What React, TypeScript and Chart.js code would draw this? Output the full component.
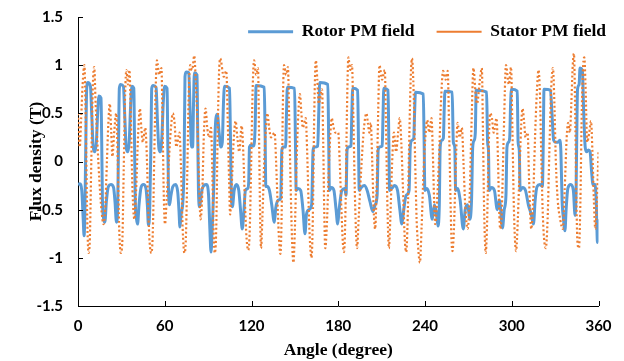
import React, { useEffect, useRef } from 'react';
import { Chart, registerables } from 'chart.js';

Chart.register(...registerables);

const seriesNames = ['Rotor PM field', 'Stator PM field'];
const xTicks = [0, 60, 120, 180, 240, 300, 360];
const yTicks = [-1.5, -1, -0.5, 0, 0.5, 1, 1.5];
const xTitle = 'Angle (degree)';
const yTitle = 'Flux density (T)';

// [angle (degree), flux density (T)]
const rotorPoints: [number, number][] = [
  [0,-0.24],[1.2,-0.23],[2.6,-0.3],[3.6,-0.6],[4.2,-0.77],[4.8,-0.5],[5.4,0.2],[6.0,0.75],[6.8,0.82],[8.6,0.78],[9.6,0.45],[10.5,0.15],[11.6,0.1],[12.7,0.2],[13.6,0.5],[14.5,0.68],[15.9,0.66],[16.4,0.2],[16.9,-0.4],[17.8,-0.6],[18.6,-0.63],[19.6,-0.42],[21,-0.26],[22.8,-0.24],[24.6,-0.27],[25.6,-0.42],[26.6,-0.63],[27.4,-0.5],
  [28,0.15],[28.6,0.76],[29.5,0.8],[31.4,0.78],[32.4,0.45],[33.3,0.15],[34.4,0.1],[35.4,0.2],[36.4,0.58],[37.3,0.78],[38.6,0.76],[39.1,0.2],[39.6,-0.4],[40.5,-0.6],[41.2,-0.65],[42.2,-0.45],[43.6,-0.27],[45.3,-0.24],[47,-0.28],[48,-0.46],[48.7,-0.66],[49.6,-0.5],
  [50.4,0.15],[51,0.76],[52,0.79],[54,0.77],[55,0.4],[56,0.13],[57,0.1],[58,0.25],[59,0.62],[59.9,0.78],[61.6,0.76],[62.1,0.2],[62.6,-0.3],[63.3,-0.45],[64.3,-0.35],[65.6,-0.26],[67.5,-0.24],[69,-0.32],[69.8,-0.5],[70.5,-0.68],[71.3,-0.55],[72.6,-0.4],
  [73.4,0.0],[74,0.88],[74.8,0.93],[76.6,0.92],[77.6,0.5],[78.5,0.15],[79.3,0.15],[79.9,0.6],[80.5,0.92],[82.3,0.9],[82.8,0.3],[83.3,-0.3],[84.2,-0.47],[85.4,-0.32],[87,-0.25],[89,-0.24],[90.3,-0.35],[91.2,-0.7],[92,-0.94],[92.8,-0.7],[93.8,-0.3],
  [94.6,0.2],[95.4,0.45],[96.4,0.49],[97.6,0.3],[98.8,0.15],[99.8,0.2],[100.6,0.6],[101.3,0.78],[104.8,0.76],[105.4,0.3],[106,-0.3],[106.8,-0.47],[108,-0.3],[109.6,-0.24],[111.2,-0.3],[112.4,-0.5],[113.6,-0.7],[114.6,-0.55],[115.8,-0.3],[117.4,-0.28],[118.1,-0.2],
  [118.6,0.15],[119.8,0.17],[121.6,0.16],[122.5,0.35],[123.2,0.79],[128.8,0.77],[129.4,0.3],[129.9,-0.26],[131,-0.26],[132.4,-0.3],[134,-0.45],[135.8,-0.63],[136.8,-0.48],[138.6,-0.4],[140.2,-0.38],
  [141,0.12],[142,0.15],[143.6,0.15],[144.2,0.5],[144.8,0.77],[149.8,0.76],[150.4,0.2],[150.9,-0.3],[152.2,-0.28],[154,-0.3],[155.6,-0.5],[157,-0.75],[158,-0.55],[159.8,-0.5],[161.6,-0.45],
  [162.6,0.12],[163.6,0.15],[165.8,0.16],[166.5,0.5],[167.2,0.82],[172.8,0.8],[173.4,0.2],[173.9,-0.3],[175.3,-0.27],[177,-0.3],[178.5,-0.5],[179.6,-0.65],[180.6,-0.5],[182.5,-0.3],[184.5,-0.28],[185.4,-0.35],
  [186.1,0.12],[187,0.15],[188.8,0.16],[189.4,0.5],[190,0.76],[193.4,0.74],[194,0.2],[194.5,-0.3],[196,-0.27],[198,-0.25],[200,-0.3],[202,-0.42],[204,-0.52],[205.5,-0.45],[206.9,-0.35],
  [207.6,0.12],[208.6,0.15],[210.4,0.16],[211,0.5],[211.5,0.76],[214.4,0.74],[215,0.2],[215.5,-0.3],[217,-0.28],[219,-0.25],[221,-0.3],[222.6,-0.5],[224,-0.65],[225.3,-0.5],[227,-0.35],[229,-0.3],
  [229.8,0.15],[230.8,0.22],[232.2,0.24],[232.8,0.5],[233.4,0.72],[238.8,0.7],[239.4,0.2],[239.9,-0.3],[241.3,-0.28],[243,-0.35],[245,-0.6],[246.5,-0.45],[248,-0.55],[249,-0.67],[249.9,-0.45],
  [250.5,0.15],[251.5,0.22],[252.7,0.24],[253.3,0.55],[253.8,0.73],[258.8,0.72],[259.6,0.2],[260.6,0.15],[261.2,-0.3],[262.5,-0.28],[264.3,-0.4],[266.5,-0.7],[267.8,-0.5],[269.5,-0.45],[271,-0.6],[272.2,-0.4],
  [273,0.15],[274,0.22],[274.8,0.3],[275.4,0.74],[282.6,0.72],[283.3,0.2],[283.9,0.12],[284.4,-0.3],[286,-0.27],[288,-0.3],[290,-0.5],[291.5,-0.4],[293.6,-0.69],[294.8,-0.5],[296,-0.35],
  [296.7,0.15],[297.8,0.2],[298.6,0.25],[299.2,0.6],[299.8,0.75],[303.8,0.73],[304.4,0.2],[305.2,0.12],[305.8,-0.3],[307.5,-0.27],[309.5,-0.3],[311.5,-0.45],[313.5,-0.55],[315,-0.65],[316.2,-0.4],[317.5,-0.26],[319.5,-0.24],[321.2,-0.26],
  [321.8,0.2],[322.3,0.75],[326.8,0.74],[327.8,0.5],[329,0.22],[330.4,0.2],[332,0.2],[333.2,0.22],[334,0.1],[334.8,-0.4],[335.8,-0.6],[336.8,-0.72],[337.6,-0.5],[338.8,-0.28],[340.8,-0.24],[342.6,-0.3],[343.8,-0.56],[344.5,-0.3],
  [345,0.3],[345.5,0.75],[346.6,0.8],[347.2,0.97],[348.8,0.95],[349.8,0.5],[350.8,0.15],[351.8,0.1],[353,0.12],[354.2,0.1],[355.2,-0.1],[356.2,-0.24],[357.6,-0.24],[358.4,-0.4],[359.3,-0.84],[360,-0.6],
];

const statorPoints: [number, number][] = [
  [0,0.5],[1.2,0.15],[2.2,0.45],[3.2,0.8],[4.4,1.0],[5.4,0.4],[6.4,-0.6],[7.3,-0.95],[8.2,-0.8],[9.2,0.0],[10.3,0.8],[11.2,0.98],[12.2,0.6],[13.4,0.2],[14.8,-0.2],[16.2,-0.5],[17.6,-0.65],[18.8,-0.5],[20,0.0],[21,0.4],[22,0.6],[23,0.3],[23.8,0.05],[25,0.3],[26.5,0.5],[27.5,0.0],[28.5,-0.7],[29.6,-0.95],[30.6,-0.85],[31.6,-0.1],[32.6,0.7],[33.5,0.95],[34.6,0.8],[35.6,0.95],[36.6,0.4],[37.7,-0.3],[39,-0.6],[40.2,-0.3],[41.5,0.25],[42.8,0.55],[43.8,0.35],[44.8,0.2],[46.5,0.35],[47.5,0.1],[48.6,-0.5],[49.6,-0.85],[50.8,-0.95],[51.8,-0.7],[52.8,0.1],[53.8,0.8],[54.6,1.05],[56.2,0.9],[57.7,0.97],[58.6,0.3],[59.4,-0.4],[60.2,-0.65],[61.3,-0.4],[62.8,0.0],[64.3,0.35],[65.6,0.5],[66.8,0.4],[68,0.15],[70.2,0.3],[71.3,-0.1],[72.4,-0.7],[73.6,-0.95],[74.6,-0.8],[75.6,-0.1],[76.6,0.7],[77.6,1.0],[79,0.95],[80.4,1.1],[81.4,0.85],[82.6,0.4],[83.7,-0.2],[84.8,-0.6],[85.9,-0.35],[87.1,0.3],[88.2,0.55],[89.4,0.35],[90.6,0.25],[92,0.35],[92.9,-0.1],[93.8,-0.75],[94.6,-0.95],[95.6,-0.7],[96.5,0.2],[97.5,0.9],[98.4,1.07],[100.8,0.88],[102.6,0.94],[103.6,0.4],[104.5,-0.2],[105.2,-0.55],[106.2,-0.3],[107.6,0.2],[109,0.42],[110.2,0.25],[111.5,0.1],[113.2,0.37],[114.3,0.1],[115.4,-0.4],[116.6,-0.8],[117.8,-0.92],[118.8,-0.7],[119.8,0.0],[120.8,0.75],[121.8,1.05],[123.2,0.9],[124.5,0.97],[125.2,0.3],[125.9,-0.5],[126.6,-0.9],[127.5,-0.6],[128.8,0.0],[130,0.35],[131,0.5],[132.2,0.35],[133.5,0.25],[136,0.3],[137,0.0],[138.2,-0.5],[139,-0.8],[140,-0.96],[140.9,-0.5],[141.6,0.5],[142.5,1.0],[144,0.9],[145.2,0.98],[146,0.5],[147,-0.2],[148,-0.8],[149,-1.05],[150,-0.7],[151.2,0.0],[152.4,0.5],[153.5,0.7],[154.5,0.5],[155.5,0.35],[157.5,0.45],[158.5,0.1],[159.6,-0.5],[160.5,-0.85],[161.5,-1.0],[162.4,-0.6],[163.4,0.5],[164.5,1.05],[165.5,0.85],[166.5,0.6],[168.8,0.75],[169.6,0.2],[170.3,-0.5],[171,-0.9],[172,-0.7],[173.4,-0.1],[174.6,0.3],[175.5,0.45],[176.8,0.35],[178,0.3],[180,0.3],[181,0.0],[182.2,-0.5],[183.2,-0.85],[184,-0.94],[185,-0.5],[186,0.5],[187,1.08],[188.3,0.95],[189.5,1.0],[190.4,0.5],[191.3,-0.2],[192.2,-0.7],[193,-0.9],[194.1,-0.6],[195.8,-0.1],[197.8,0.35],[199.5,0.5],[200.5,0.4],[201.5,0.3],[202.5,0.4],[203.5,0.0],[204.5,-0.5],[205.5,-0.7],[206.5,-0.3],[207.6,0.5],[208.5,1.0],[210.3,0.85],[212.2,0.95],[213,0.4],[213.8,-0.3],[214.4,-0.7],[215,-0.9],[216,-0.6],[217.3,0.0],[218.5,0.3],[220,0.1],[221.4,0.3],[222.5,0.45],[223.6,0.2],[224.8,-0.3],[226,-0.8],[227,-0.94],[228,-0.6],[229.2,0.3],[230.2,0.9],[231,1.07],[232.2,0.7],[233.2,0.0],[234.2,-0.6],[235.3,-0.9],[236.5,-1.05],[237.6,-0.7],[239,-0.1],[240.5,0.3],[241.5,0.43],[243,0.3],[244.5,0.45],[245.4,0.1],[246.3,-0.4],[247,-0.65],[248,-0.5],[249.6,0.0],[251,0.6],[252.5,0.94],[254.3,0.85],[255.7,0.94],[256.6,0.4],[257.5,-0.3],[258.3,-0.8],[259,-0.93],[260,-0.7],[261.2,-0.1],[262.5,0.4],[264,0.25],[265.5,0.35],[266.6,0.0],[267.8,-0.45],[269.5,-0.7],[270.8,-0.4],[272.2,0.4],[273.5,0.97],[275,0.7],[276,0.6],[278,0.85],[279.3,0.97],[280.1,0.3],[280.9,-0.5],[282,-0.95],[283,-0.6],[284,0.1],[285,0.5],[286.3,0.45],[287.5,0.3],[289.5,0.45],[290.5,0.0],[291.3,-0.5],[292,-0.7],[293,-0.55],[294.5,0.3],[296,1.0],[298,0.8],[299.5,0.98],[300.5,0.3],[301.5,-0.5],[303,-0.93],[304.2,-0.6],[305.6,0.0],[306.6,0.4],[307.5,0.55],[308.6,0.4],[309.5,0.25],[311,0.3],[312,-0.2],[313.5,-0.7],[314.8,-0.4],[316,0.2],[317.3,0.7],[318.5,0.95],[319.5,0.7],[320.5,0.0],[321.6,-0.6],[323.5,-0.9],[324.8,-0.6],[326,0.1],[327.4,0.8],[328.5,0.97],[329.5,0.6],[330.5,0.0],[331.8,-0.4],[333.5,-0.6],[335.3,-0.7],[336.6,-0.3],[338,0.25],[339,0.4],[340.2,0.3],[341.2,0.6],[342.2,1.0],[343,1.12],[343.8,0.6],[344.6,-0.3],[345.5,-0.85],[346.5,-0.9],[347.5,-0.4],[348.4,0.5],[349.4,1.0],[350.2,1.08],[351,0.8],[352.2,0.2],[353.6,0.3],[354.8,0.42],[355.8,0.1],[356.8,-0.4],[357.8,-0.7],[358.8,-0.45],[360,0.1],
];

const tickFont = { family: 'Lato', weight: 'bold' as const, size: 15 };
const titleFont = { family: 'Liberation Serif', weight: 'bold' as const, size: 17.5 };

const innerTicks = {
  id: 'innerTicks',
  afterLayout(chart: any) {
    // let the legend sit inside the top of the plot without shrinking it
    const lg = chart.legend;
    if (lg) {
      lg.top = 1;
      lg.bottom = 50;
      lg.height = 49;
      lg.right = lg.right + 4;
    }
  },
  afterDraw(chart: any) {
    const { ctx, chartArea, scales } = chart;
    const xs = scales.x;
    const ys = scales.y;
    ctx.save();
    ctx.strokeStyle = '#000';
    ctx.lineWidth = 1;
    xTicks.forEach((v) => {
      const px = Math.round(xs.getPixelForValue(v)) + 0.5;
      ctx.beginPath();
      ctx.moveTo(px, chartArea.bottom);
      ctx.lineTo(px, chartArea.bottom - 5);
      ctx.stroke();
    });
    yTicks.forEach((v) => {
      const py = Math.round(ys.getPixelForValue(v)) + 0.5;
      ctx.beginPath();
      ctx.moveTo(chartArea.left, py);
      ctx.lineTo(chartArea.left + 5, py);
      ctx.stroke();
    });
    ctx.restore();
  },
};

export default function App() {
  const ref = useRef<HTMLCanvasElement>(null);
  useEffect(() => {
    const chart = new Chart(ref.current as HTMLCanvasElement, {
      type: 'line',
      data: {
        datasets: [
          {
            label: seriesNames[0],
            data: rotorPoints.map(([x, y]) => ({ x, y })),
            borderColor: '#5B9BD5',
            backgroundColor: '#5B9BD5',
            borderWidth: 3,
            pointRadius: 0,
            cubicInterpolationMode: 'monotone',
            borderJoinStyle: 'round',
            order: 1,
          },
          {
            label: seriesNames[1],
            data: statorPoints.map(([x, y]) => ({ x, y })),
            borderColor: '#ED7D31',
            backgroundColor: '#ED7D31',
            borderWidth: 2.2,
            borderDash: [2, 2.4],
            pointRadius: 0,
            cubicInterpolationMode: 'monotone',
            order: 0,
          },
        ],
      },
      options: {
        animation: false,
        responsive: false,
        devicePixelRatio: 1,
        layout: { padding: 0 },
        plugins: {
          legend: {
            position: 'top',
            align: 'end',
            maxHeight: 17,
            labels: {
              usePointStyle: true,
              pointStyle: 'line',
              pointStyleWidth: 45,
              padding: 22,
              color: '#000',
              font: titleFont,
              sort: (a: any, b: any) => a.datasetIndex - b.datasetIndex,
            },
          },
          tooltip: { enabled: false },
        },
        scales: {
          x: {
            type: 'linear',
            min: 0,
            max: 360,
            afterBuildTicks: (s: any) => {
              s.ticks = xTicks.map((v) => ({ value: v }));
            },
            afterFit: (s: any) => {
              s.height = 55;
              s.paddingLeft = 0;
              s.paddingRight = 25.5;
              s.paddingTop = 0;
              s.paddingBottom = 0;
            },
            grid: { display: false, drawTicks: false },
            border: { display: true, color: '#000', width: 1 },
            ticks: {
              color: '#000',
              font: tickFont,
              padding: 11,
              maxRotation: 0,
              autoSkip: false,
              callback: (v: any) => String(v),
            },
            title: { display: true, text: xTitle, color: '#000', font: titleFont, padding: { top: 0, bottom: 0 } },
          },
          y: {
            type: 'linear',
            min: -1.5,
            max: 1.5,
            afterBuildTicks: (s: any) => {
              s.ticks = yTicks.map((v) => ({ value: v }));
            },
            afterFit: (s: any) => {
              s.width = 78;
              s.paddingTop = 0;
              s.paddingBottom = 0;
              s.paddingLeft = 0;
              s.paddingRight = 0;
            },
            grid: { display: false, drawTicks: false },
            border: { display: true, color: '#000', width: 1 },
            ticks: {
              color: '#000',
              font: tickFont,
              padding: 15,
              autoSkip: false,
              callback: (v: any) => String(v),
            },
            title: { display: true, text: yTitle, color: '#000', font: titleFont, padding: { top: 26, bottom: 0 } },
          },
        },
      },
      plugins: [innerTicks],
    } as any);
    return () => chart.destroy();
  }, []);
  return (
    <div style={{ position: 'absolute', left: 0, top: 0, width: 624, height: 361, background: '#fff' }}>
      <canvas ref={ref} width={624} height={361} style={{ display: 'block' }} />
    </div>
  );
}
